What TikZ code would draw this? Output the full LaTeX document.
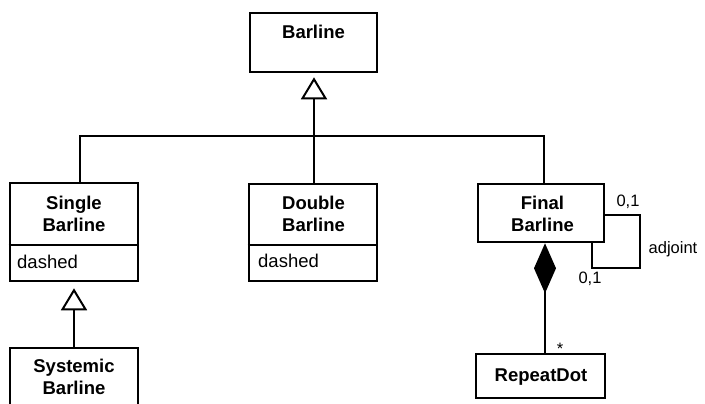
\documentclass[tikz,border=0pt]{standalone}
\usepackage{fontspec}
\setmainfont{Liberation Sans}
\usetikzlibrary{arrows.meta}
\begin{document}
\begin{tikzpicture}[x=1pt,y=-1pt,
 box/.style={draw, line width=2.6pt, inner sep=0pt},
 title/.style={font=\fontsize{18.5}{22}\selectfont\bfseries, align=center, inner sep=0pt},
 attr/.style={font=\fontsize{18.5}{22}\selectfont, inner sep=0pt, anchor=base west},
 lbl/.style={font=\fontsize{16.5}{20}\selectfont, inner sep=0pt, anchor=base},
 divider/.style={line width=2.6pt},
 conn/.style={line width=2pt},
 gen/.style={conn, -{Triangle[open, length=22pt, width=26pt]}},
 comp/.style={conn, {Diamond[length=50pt, width=22pt]}-}]
\useasboundingbox (0,0) rectangle (705,404);
\clip (0,0) rectangle (705,404);

% boxes
\node[box, minimum width=127pt, minimum height=59pt] (barline) at (313.5,42.5) {};
\node[box, minimum width=128pt, minimum height=98pt] (single) at (74,232) {};
\node[box, minimum width=128pt, minimum height=97pt] (double) at (313,232.5) {};
\node[box, minimum width=126pt, minimum height=58pt] (final) at (541,213) {};
\node[box, minimum width=128pt, minimum height=72pt] (systemic) at (74,384) {};
\node[box, minimum width=129pt, minimum height=44pt] (repeat) at (540.5,376) {};

% dividers
\draw[divider] (single.west |- 0,245) -- (single.east |- 0,245);
\draw[divider] (double.west |- 0,245) -- (double.east |- 0,245);

% texts
\node[title, anchor=base] (barlineT) at (313.5,39) {Barline};
\node[title] (singleT) at (74,213.5) {Single\\Barline};
\node[title] (doubleT) at (313.5,214) {Double\\Barline};
\node[title] (finalT) at (542.5,214) {Final\\Barline};
\node[title] (systemicT) at (74,377) {Systemic\\Barline};
\node[title, anchor=base] (repeatT) at (541,381) {RepeatDot};
\node[attr] (singleA) at (17,268) {dashed};
\node[attr] (doubleA) at (258,267) {dashed};

% generalisation tree
\coordinate (hub) at (314,136);
\draw[conn] ([xshift=6pt]single.north) |- (hub) -| ([xshift=3pt]final.north);
\draw[gen] ([xshift=1pt]double.north) -- ([xshift=0.5pt, yshift=-4pt]barline.south);
\draw[gen] (systemic.north) -- ([yshift=-6pt]single.south);

% composition
\draw[comp] ([xshift=4pt]final.south) -- ([xshift=4pt]final.south |- repeat.north);

% self association
\coordinate (loopc) at (640,268);
\draw[conn] ([yshift=-2pt]final.east) -| (loopc) -| ([xshift=51pt]final.south);

% labels
\node[lbl] (m1) at (628,206) {0,1};
\node[lbl] (adj) at (673,253) {adjoint};
\node[lbl] (m2) at (590,283) {0,1};
\node[lbl] (star) at (560,354) {*};
\end{tikzpicture}
\end{document}
